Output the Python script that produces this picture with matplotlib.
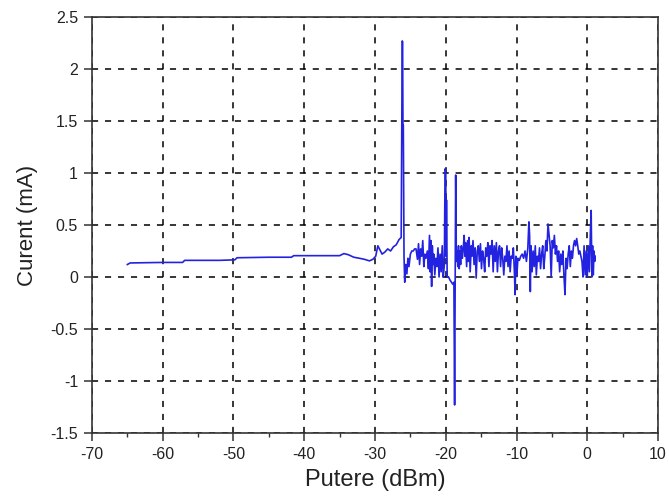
import matplotlib
matplotlib.use("Agg")
import matplotlib.pyplot as plt
from matplotlib.ticker import MultipleLocator

plt.rcParams['font.family'] = ['Liberation Sans', 'DejaVu Sans']
plt.rcParams['axes.unicode_minus'] = False

# Photodetector current versus optical input power
power_dbm = [
    -65.0, -64.6, -60.0, -57.2, -56.9, -52.0, -49.8, -49.5, -45.0, -41.8,
    -41.5, -38.0, -35.0, -34.4, -33.8, -33.0, -32.2, -31.5, -30.8, -30.3,
    -29.9, -29.6, -29.3, -29.0, -28.6, -28.2, -27.8, -27.4, -27.0, -26.6,
    -26.3, -26.15, -26.1, -26.05, -26.0, -25.9, -25.8, -25.65, -25.5, -25.35,
    -25.2, -25.0, -24.8, -24.6, -24.4, -24.2, -24.0, -23.85, -23.7, -23.55,
    -23.4, -23.25, -23.1, -22.95, -22.8, -22.6, -22.45, -22.3, -22.2, -22.1,
    -22.0, -21.9, -21.8, -21.7, -21.55, -21.4, -21.25, -21.1, -20.95, -20.8,
    -20.65, -20.5, -20.35, -20.2, -20.1, -20.0, -19.95, -19.9, -19.8, -19.6,
    -19.4, -19.2, -19.0, -18.85, -18.75, -18.6, -18.5, -18.4, -18.3, -18.2,
    -18.1, -18.0, -17.9, -17.8, -17.65, -17.5, -17.4, -17.3, -17.2, -17.05,
    -16.9, -16.8, -16.7, -16.55, -16.4, -16.3, -16.15, -16.0, -15.85, -15.7,
    -15.55, -15.4, -15.25, -15.1, -14.95, -14.8, -14.65, -14.5, -14.35, -14.2,
    -14.05, -13.9, -13.75, -13.6, -13.45, -13.3, -13.15, -13.0, -12.85, -12.7,
    -12.55, -12.4, -12.25, -12.1, -11.95, -11.8, -11.65, -11.5, -11.35, -11.2,
    -11.05, -10.9, -10.75, -10.6, -10.45, -10.3, -10.2, -10.1, -9.95, -9.8,
    -9.6, -9.4, -9.2, -9.0, -8.8, -8.6, -8.4, -8.25, -8.15, -8.05,
    -7.95, -7.8, -7.65, -7.5, -7.35, -7.2, -7.05, -6.9, -6.75, -6.6,
    -6.45, -6.3, -6.15, -6.0, -5.85, -5.7, -5.55, -5.4, -5.25, -5.1,
    -4.95, -4.8, -4.65, -4.5, -4.35, -4.2, -4.05, -3.9, -3.75, -3.6,
    -3.45, -3.3, -3.15, -3.0, -2.85, -2.7, -2.55, -2.4, -2.25, -2.1,
    -1.95, -1.8, -1.65, -1.5, -1.35, -1.2, -1.05, -0.9, -0.75, -0.6,
    -0.45, -0.3, -0.15, 0.0, 0.15, 0.3, 0.45, 0.55, 0.65, 0.75,
    0.85, 0.95, 1.05, 1.1,
]
current_ma = [
    0.12, 0.135, 0.14, 0.14, 0.16, 0.16, 0.165, 0.185, 0.19, 0.19,
    0.205, 0.205, 0.205, 0.225, 0.215, 0.19, 0.18, 0.17, 0.155, 0.17,
    0.20, 0.30, 0.26, 0.22, 0.24, 0.27, 0.25, 0.29, 0.31, 0.36,
    0.38, 2.27, 2.26, 1.46, 1.46, 0.20, -0.05, 0.12, 0.03, 0.18,
    0.10, 0.22, 0.25, 0.25, 0.27, 0.27, 0.17, 0.32, 0.12, 0.27,
    0.20, 0.35, 0.10, 0.22, 0.18, 0.25, 0.08, 0.40, 0.05, 0.35,
    -0.09, 0.30, 0.12, 0.22, 0.02, 0.18, 0.10, 0.28, 0.00, 0.22,
    0.05, 0.30, 0.00, 0.12, 1.04, 1.02, 0.20, 0.74, 0.00, 0.00,
    -0.03, -0.05, -0.07, -0.05, -1.23, 0.98, 0.15, 0.25, 0.10, 0.30,
    0.08, 0.25, 0.12, 0.30, 0.18, 0.30, 0.40, 0.20, 0.33, 0.10,
    0.35, 0.15, 0.38, 0.05, 0.30, 0.20, 0.35, 0.12, 0.28, -0.01,
    0.25, 0.30, 0.15, 0.32, 0.08, 0.25, 0.18, 0.05, 0.28, 0.20,
    0.33, 0.10, 0.30, 0.22, 0.35, 0.05, 0.30, 0.15, 0.33, 0.05,
    0.25, 0.30, 0.10, 0.28, 0.18, 0.02, 0.20, 0.15, 0.30, 0.10,
    0.25, 0.05, 0.20, 0.18, 0.28, 0.05, -0.17, 0.20, 0.02, 0.18,
    0.16, 0.20, 0.22, 0.18, 0.25, 0.15, 0.28, 0.53, 0.40, -0.14,
    0.30, 0.05, 0.25, 0.10, 0.30, 0.02, 0.20, 0.15, 0.28, 0.08,
    0.22, 0.30, 0.08, 0.20, 0.35, 0.25, 0.51, 0.40, 0.30, 0.00,
    0.35, 0.28, 0.40, 0.22, 0.30, 0.15, 0.25, 0.05, 0.22, 0.12,
    0.25, 0.02, -0.17, 0.18, 0.08, 0.22, 0.30, 0.10, 0.25, 0.18,
    0.30, 0.35, 0.30, 0.37, 0.30, 0.22, 0.25, 0.20, 0.15, 0.00,
    0.30, 0.02, 0.25, 0.00, 0.30, 0.05, 0.45, 0.64, 0.00, 0.30,
    0.02, 0.25, 0.15, 0.20,
]

x_ticks = [-70, -60, -50, -40, -30, -20, -10, 0, 10]
y_ticks = [-1.5, -1, -0.5, 0, 0.5, 1, 1.5, 2, 2.5]
y_tick_labels = ["-1.5", "-1", "-0.5", "0", "0.5", "1", "1.5", "2", "2.5"]

fig = plt.figure(figsize=(6.69, 4.97), dpi=100)
ax = fig.add_axes([0.1375, 0.1288, 0.8461, 0.837])

ax.plot(power_dbm, current_ma, color="#2222e0", linewidth=1.2, zorder=3)

ax.set_xlim(-70, 10)
ax.set_ylim(-1.5, 2.5)
ax.set_xticks(x_ticks)
ax.set_yticks(y_ticks)
ax.set_yticklabels(y_tick_labels)
ax.xaxis.set_minor_locator(MultipleLocator(5))

ax.grid(True, which="major", color="black", linestyle=(0, (4, 4.5)), linewidth=1.1)
ax.set_axisbelow(True)

for side in ax.spines.values():
    side.set_color("#333333")
    side.set_linewidth(1.2)

ax.tick_params(axis="both", which="major", direction="out", length=6, width=1.1,
               colors="#333333", labelsize=11.5, labelcolor="#222222", pad=4)
ax.tick_params(axis="x", which="minor", direction="out", length=3, width=1.0,
               colors="#333333")

ax.set_xlabel("Putere (dBm)", fontsize=17, color="#222222", labelpad=5)
ax.set_ylabel("Curent (mA)", fontsize=16, color="#222222", labelpad=9)

fig.savefig("out.png", dpi=100)
